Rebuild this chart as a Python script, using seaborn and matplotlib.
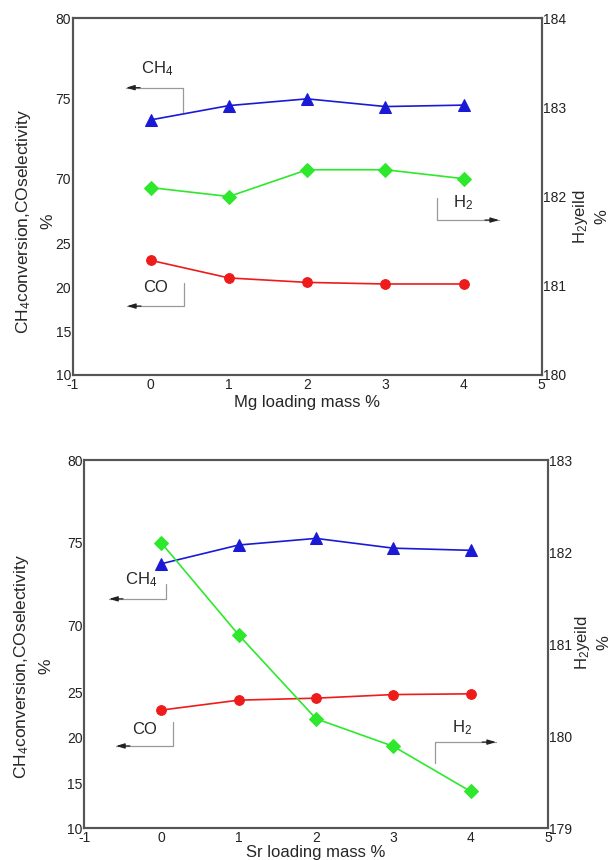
import numpy as np
import pandas as pd
import matplotlib
matplotlib.use("Agg")
import matplotlib.pyplot as plt
import seaborn as sns

sns.set_style("white")
plt.rcParams['font.family'] = ['Liberation Sans', 'DejaVu Sans']
plt.rcParams['mathtext.fontset'] = 'custom'
plt.rcParams['mathtext.rm'] = 'Liberation Sans'
plt.rcParams['mathtext.it'] = 'Liberation Sans:italic'
plt.rcParams['mathtext.default'] = 'regular'

# ---- data ----
loading = [0, 1, 2, 3, 4]
mg_ch4 = [73.66, 74.55, 74.97, 74.49, 74.58]
mg_co = [23.09, 21.08, 20.57, 20.39, 20.39]
mg_h2 = [182.10, 182.00, 182.30, 182.30, 182.20]
sr_ch4 = [73.74, 74.87, 75.27, 74.68, 74.55]
sr_co = [23.08, 24.18, 24.40, 24.80, 24.88]
sr_h2 = [182.10, 181.10, 180.19, 179.89, 179.40]

left_ticks = [10, 15, 20, 25, 70, 75, 80]
x_ticks = [-1, 0, 1, 2, 3, 4, 5]

# piecewise broken-axis scale
bp_in = np.array([10.0, 25.0, 70.0, 80.0])
bp_out = np.array([0.0, 0.368, 0.55, 1.0])


def fwd(y):
    y = np.asarray(y, dtype=float)
    out = np.interp(y, bp_in, bp_out)
    lo = y < bp_in[0]
    hi = y > bp_in[-1]
    s0 = (bp_out[1] - bp_out[0]) / (bp_in[1] - bp_in[0])
    s1 = (bp_out[-1] - bp_out[-2]) / (bp_in[-1] - bp_in[-2])
    out = np.where(lo, bp_out[0] + (y - bp_in[0]) * s0, out)
    out = np.where(hi, bp_out[-1] + (y - bp_in[-1]) * s1, out)
    return out


def inv(u):
    u = np.asarray(u, dtype=float)
    out = np.interp(u, bp_out, bp_in)
    lo = u < bp_out[0]
    hi = u > bp_out[-1]
    s0 = (bp_in[1] - bp_in[0]) / (bp_out[1] - bp_out[0])
    s1 = (bp_in[-1] - bp_in[-2]) / (bp_out[-1] - bp_out[-2])
    out = np.where(lo, bp_in[0] + (u - bp_out[0]) * s0, out)
    out = np.where(hi, bp_in[-1] + (u - bp_out[-1]) * s1, out)
    return out


BLUE = '#1a1ad6'
RED = '#ee1b1b'
GREEN = '#2ee82e'
SPINE = '#555555'
ARROW = '#999999'

fig = plt.figure(figsize=(6.11, 8.60), dpi=100)


def bracket(ax, pts, tip_dir, text, txy):
    xs = [p[0] for p in pts]
    ys = [p[1] for p in pts]
    ax.plot(xs, ys, color=ARROW, lw=0.9, transform=ax.transAxes, clip_on=False)
    tip = pts[-1]
    d = 0.03 if tip_dir == 'right' else -0.03
    ax.annotate('', xy=tip, xytext=(tip[0] - d, tip[1]), xycoords='axes fraction',
                textcoords='axes fraction',
                arrowprops=dict(arrowstyle='-|>,head_length=0.5,head_width=0.15',
                                color='#222222', lw=0.9, shrinkA=0, shrinkB=0))
    ax.text(txy[0], txy[1], text, transform=ax.transAxes, ha='center', va='center',
            fontsize=12)


def panel(rect, ch4, co, h2, h2lim, h2ticks, xlabel, xpad, ann, lcoords, rcoords):
    ax = fig.add_axes(rect)
    ax.set_yscale('function', functions=(fwd, inv))
    df = pd.DataFrame({'x': loading, 'ch4': ch4, 'co': co, 'h2': h2})
    sns.lineplot(data=df, x='x', y='ch4', ax=ax, color=BLUE, marker='^',
                 markersize=8, markeredgecolor=BLUE, lw=1.2)
    sns.lineplot(data=df, x='x', y='co', ax=ax, color=RED, marker='o',
                 markersize=7, markeredgecolor=RED, lw=1.2)
    ax.set_xlim(-1, 5)
    ax.set_ylim(10, 80)
    ax.set_xticks(x_ticks)
    ax.set_xticklabels([str(t) for t in x_ticks])
    ax.set_yticks(left_ticks)
    ax.set_yticklabels([str(t) for t in left_ticks])
    ax.yaxis.set_minor_locator(matplotlib.ticker.NullLocator())
    ax.tick_params(axis='both', length=0, labelsize=10, colors='#222222')
    ax.tick_params(axis='y', pad=1)
    ax.tick_params(axis='x', pad=2)
    ax.set_xlabel(xlabel, fontsize=12, labelpad=xpad)
    ax.set_ylabel('CH$_4$conversion,COselectivity\n%', fontsize=12.5,
                  linespacing=1.6)
    ax.yaxis.set_label_coords(*lcoords)

    ax2 = ax.twinx()
    sns.lineplot(data=df, x='x', y='h2', ax=ax2, color=GREEN, marker='D',
                 markersize=7, markeredgecolor=GREEN, lw=1.2)
    ax2.set_ylim(*h2lim)
    ax2.set_yticks(h2ticks)
    ax2.set_yticklabels([str(t) for t in h2ticks])
    ax2.tick_params(axis='y', length=0, labelsize=10, pad=1, colors='#222222')
    ax2.set_ylabel('H$_2$yeild\n%', fontsize=12, linespacing=1.4)
    ax2.yaxis.set_label_coords(*rcoords)
    ax2.set_xlim(-1, 5)

    for a in (ax, ax2):
        for s in a.spines.values():
            s.set_color(SPINE)
            s.set_linewidth(1.5)
            s.set_visible(True)

    for pts, d, t, txy in ann:
        bracket(ax2, pts, d, t, txy)
    return ax, ax2


ann_top = [
    ([(0.2355, 0.7375), (0.2355, 0.805), (0.114, 0.805)], 'left', 'CH$_4$', (0.18, 0.857)),
    ([(0.2376, 0.258), (0.2376, 0.193), (0.116, 0.193)], 'left', 'CO', (0.176, 0.246)),
    ([(0.776, 0.496), (0.776, 0.434), (0.909, 0.434)], 'right', 'H$_2$', (0.832, 0.482)),
]
ann_bot = [
    ([(0.177, 0.663), (0.177, 0.623), (0.054, 0.623)], 'left', 'CH$_4$', (0.123, 0.674)),
    ([(0.192, 0.289), (0.192, 0.2235), (0.069, 0.2235)], 'left', 'CO', (0.131, 0.267)),
    ([(0.757, 0.177), (0.757, 0.234), (0.888, 0.234)], 'right', 'H$_2$', (0.815, 0.272)),
]

panel([0.1187, 0.564, 0.768, 0.415], mg_ch4, mg_co, mg_h2, (180, 184),
      [180, 181, 182, 183, 184], 'Mg loading mass %', 2, ann_top,
      (-0.037, 0.43), (1.062, 0.443))
panel([0.1375, 0.0369, 0.7594, 0.4282], sr_ch4, sr_co, sr_h2, (179, 183),
      [179, 180, 181, 182, 183], 'Sr loading mass %', 0, ann_bot,
      (-0.066, 0.44), (1.054, 0.503))

fig.savefig('out.png', dpi=100)
